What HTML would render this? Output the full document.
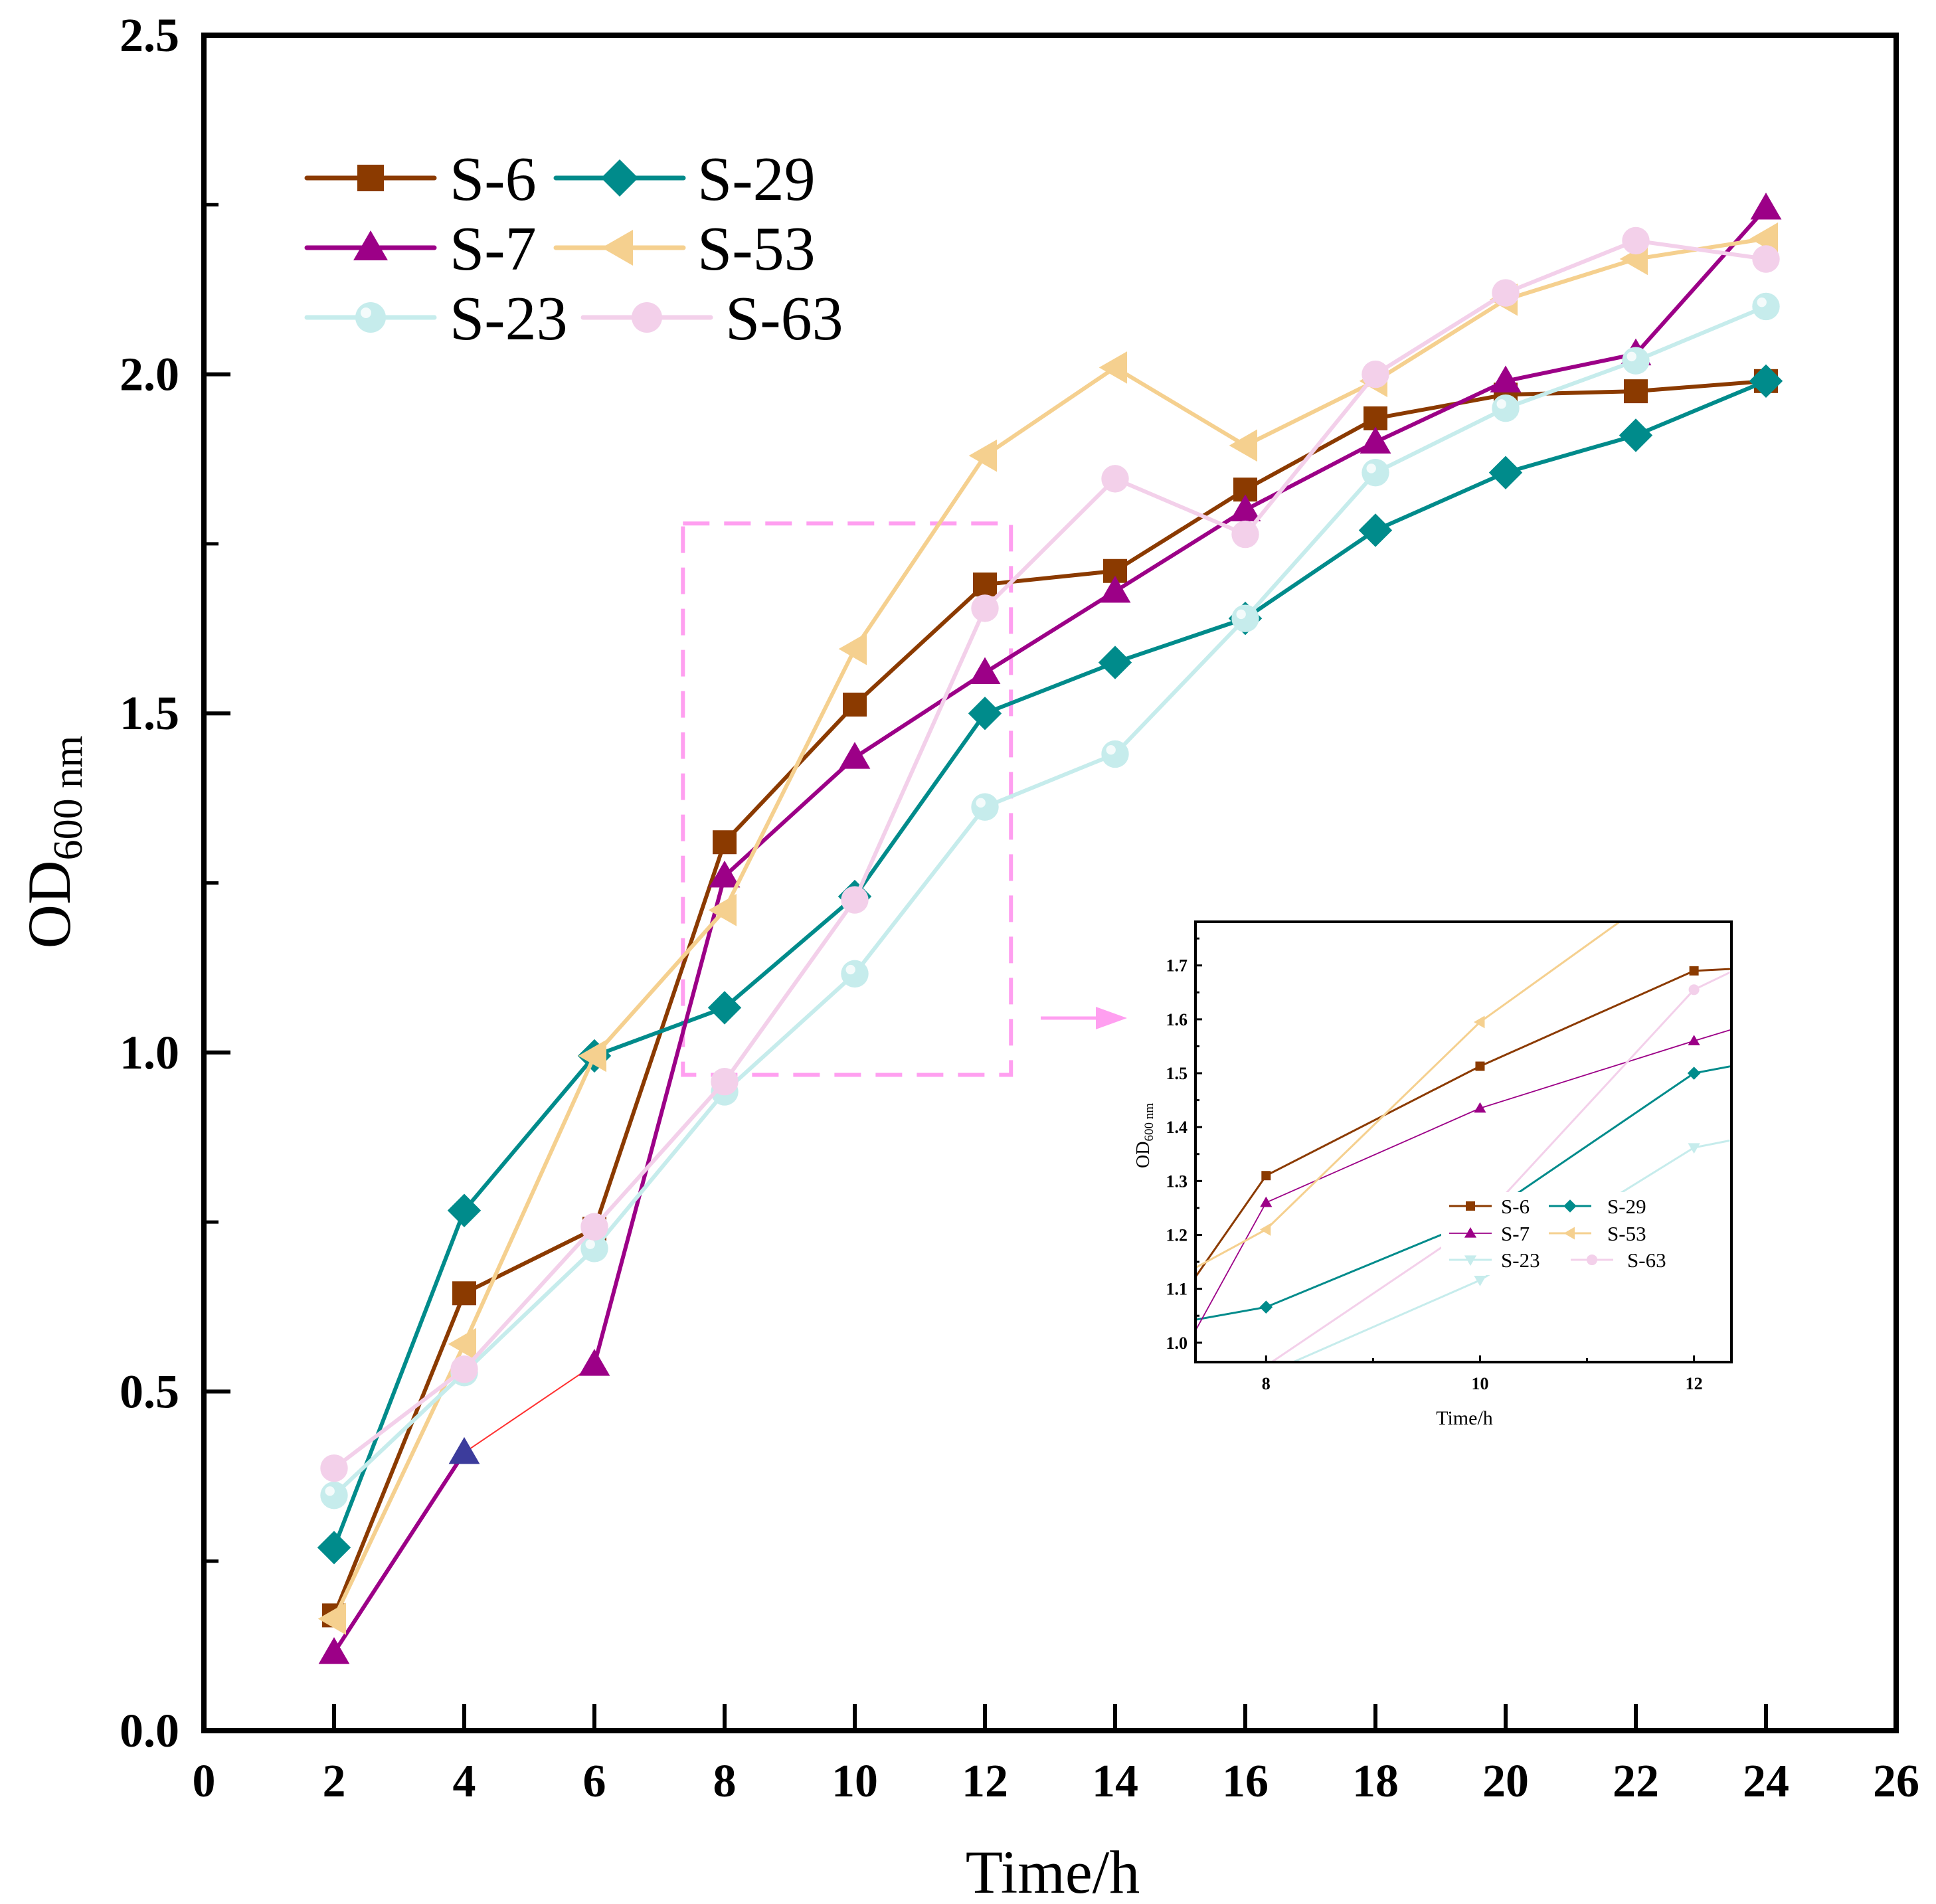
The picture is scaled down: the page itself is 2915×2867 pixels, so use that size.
<!DOCTYPE html>
<html><head><meta charset="utf-8"><style>
html,body{margin:0;padding:0;background:#fff}
svg{display:block}
text{font-family:"Liberation Serif","Times New Roman",serif}
</style></head><body>
<svg id="chart" width="2915" height="2867" viewBox="0 0 2915 2867" xmlns="http://www.w3.org/2000/svg">
<rect width="2915" height="2867" fill="#fff"/>
<g id="main"></g>
<g id="inset"></g>
</svg>
<script>
const times = [2,4,6,8,10,12,14,16,18,20,22,24];
const s6  = [0.17,0.645,0.74,1.31,1.513,1.69,1.71,1.83,1.935,1.97,1.975,1.99];
const s29 = [0.27,0.767,0.995,1.066,1.23,1.50,1.575,1.64,1.77,1.855,1.91,1.99];
const s7  = [0.115,0.41,0.54,1.26,1.435,1.56,1.68,1.80,1.90,1.99,2.03,2.245];
const s53 = [0.165,0.57,0.995,1.21,1.595,1.88,2.01,1.895,1.99,2.11,2.17,2.20];
const s23 = [0.347,0.528,0.711,0.942,1.116,1.362,1.44,1.64,1.855,1.95,2.02,2.10];
const s63 = [0.387,0.533,0.743,0.957,1.225,1.655,1.846,1.764,2.0,2.12,2.197,2.17];
const xTicks = [0,2,4,6,8,10,12,14,16,18,20,22,24,26];
const yTicks = [0.0,0.5,1.0,1.5,2.0,2.5];
const insetXTicks = [8,10,12];
const insetYTicks = [1.0,1.1,1.2,1.3,1.4,1.5,1.6,1.7];

const NS="http://www.w3.org/2000/svg";
function mk(tag,attrs,parent){const e=document.createElementNS(NS,tag);for(const k in attrs)e.setAttribute(k,attrs[k]);parent.appendChild(e);return e;}

const series=[
 {name:"S-6",vals:s6,color:"#8b3a00",marker:"square"},
 {name:"S-29",vals:s29,color:"#008b8b",marker:"diamond"},
 {name:"S-7",vals:s7,color:"#9c0087",marker:"triangle"},
 {name:"S-53",vals:s53,color:"#f5d08f",marker:"left"},
 {name:"S-23",vals:s23,color:"#c6ecec",marker:"ball"},
 {name:"S-63",vals:s63,color:"#f3d0ea",marker:"circle"}
];

function drawMarker(g,type,cx,cy,r,color){
  let e;
  if(type==="square") e=mk("rect",{x:cx-r,y:cy-r,width:2*r,height:2*r,fill:color},g);
  else if(type==="diamond") e=mk("polygon",{points:`${cx},${cy-r*1.4} ${cx+r*1.4},${cy} ${cx},${cy+r*1.4} ${cx-r*1.4},${cy}`,fill:color},g);
  else if(type==="triangle") e=mk("polygon",{points:`${cx},${cy-r*1.3} ${cx+r*1.3},${cy+r*0.95} ${cx-r*1.3},${cy+r*0.95}`,fill:color},g);
  else if(type==="down") e=mk("polygon",{points:`${cx},${cy+r*1.3} ${cx+r*1.3},${cy-r*0.95} ${cx-r*1.3},${cy-r*0.95}`,fill:color},g);
  else if(type==="left") e=mk("polygon",{points:`${cx-r*1.35},${cy} ${cx+r},${cy-r*1.35} ${cx+r},${cy+r*1.35}`,fill:color},g);
  else if(type==="ball"){ e=mk("circle",{cx:cx,cy:cy,r:r*1.15,fill:color},g); mk("circle",{cx:cx-r*0.35,cy:cy-r*0.35,r:r*0.4,fill:"#f4fbfb"},g);}
  else e=mk("circle",{cx:cx,cy:cy,r:r*1.15,fill:color},g);
  return e;
}

/* ---------- main chart ---------- */
const main=document.getElementById("main");
const X0=307,X1=2855,Y0=2606,Y1=53;
const xs=v=>X0+(v-0)/(26-0)*(X1-X0);
const ys=v=>Y0-(v-0)/(2.5-0)*(Y0-Y1);

yTicks.forEach(v=>{
  const t=mk("line",{x1:X0,x2:X0+40,y1:ys(v),y2:ys(v),stroke:"#000","stroke-width":6},main);
  
  
  const lb=mk("text",{x:270,y:ys(v)+24,"text-anchor":"end","font-size":72,"font-weight":"bold"},main);
  lb.textContent=v.toFixed(1);
  
  
  if(v<2.5){const m=mk("line",{x1:X0,x2:X0+22,y1:ys(v+0.25),y2:ys(v+0.25),stroke:"#000","stroke-width":5},main);
  
  }
});
xTicks.forEach(v=>{
  const t=mk("line",{x1:xs(v),x2:xs(v),y1:Y0,y2:Y0-40,stroke:"#000","stroke-width":6},main);
  
  
  const lb=mk("text",{x:xs(v),y:2705,"text-anchor":"middle","font-size":70,"font-weight":"bold"},main);
  lb.textContent=String(v);
  
  
});

const zr=mk("rect",{x:xs(7.36),y:ys(1.78),width:xs(12.4)-xs(7.36),height:ys(0.967)-ys(1.78),fill:"none",stroke:"#ff9ff0","stroke-width":6,"stroke-dasharray":"40,22"},main);


const ar=mk("g",{},main);


mk("line",{x1:1567,y1:1533,x2:1655,y2:1533,stroke:"#ff9ff0","stroke-width":5},ar);
mk("polygon",{points:"1697,1533 1650,1516 1650,1550",fill:"#ff9ff0"},ar);

series.forEach(s=>{
  const g=mk("g",{},main);
  
  
  const pts=times.map((t,i)=>[xs(t),ys(s.vals[i])]);
  if(s.name==="S-7"){
    const p1=mk("polyline",{points:pts.slice(0,2).map(p=>p.join(",")).join(" "),fill:"none",stroke:s.color,"stroke-width":6,"stroke-linecap":"round"},g);
    
    
    const p2=mk("line",{x1:pts[1][0],y1:pts[1][1],x2:pts[2][0],y2:pts[2][1],stroke:"#ff3030","stroke-width":2},g);
    
    
    const p3=mk("polyline",{points:pts.slice(2).map(p=>p.join(",")).join(" "),fill:"none",stroke:s.color,"stroke-width":6,"stroke-linecap":"round"},g);
    
    
  } else {
    const pl=mk("polyline",{points:pts.map(p=>p.join(",")).join(" "),fill:"none",stroke:s.color,"stroke-width":6,"stroke-linecap":"round","stroke-linejoin":"round"},g);
    
    
  }
  s.g=g;s.pts=pts;
});
series.forEach(s=>{
  s.pts.forEach((p,i)=>{
    const c=(s.name==="S-7"&&i===1)?"#3c3c9c":s.color;
    const m=drawMarker(s.g,s.marker,p[0],p[1],18,c);
    
    
  });
});

const fr=mk("rect",{x:X0,y:Y1,width:X1-X0,height:Y0-Y1,fill:"none",stroke:"#000","stroke-width":8},main);



const xt=mk("text",{x:1585,y:2850,"text-anchor":"middle","font-size":92},main);
xt.textContent="Time/h";


const yt=mk("text",{transform:"translate(105,1268) rotate(-90)","text-anchor":"middle","font-size":92},main);
yt.innerHTML='OD<tspan font-size="62" dy="18">600 nm</tspan>';



const leg=mk("g",{},main);


const legPos=[[462,268,677],[837,268,1050],[462,373,677],[837,373,1050],[462,478,677],[878,478,1092]];
series.forEach((s,i)=>{
  const [lx,ly,tx]=legPos[i];
  const e=mk("g",{},leg);
  
  
  mk("line",{x1:lx,x2:lx+192,y1:ly,y2:ly,stroke:s.color,"stroke-width":7,"stroke-linecap":"round"},e);
  drawMarker(e,s.marker,lx+96,ly,20,s.color);
  const t=mk("text",{x:tx,y:ly+33,"font-size":94},e);
  t.textContent=s.name;
});

/* ---------- inset ---------- */
const ins=document.getElementById("inset");
const IX0=1800,IX1=2607,IY0=2051,IY1=1388;
const xmin=7.34,xmax=12.35,ymin=0.964,ymax=1.781;
const ixs=v=>IX0+(v-xmin)/(xmax-xmin)*(IX1-IX0);
const iys=v=>IY0-(v-ymin)/(ymax-ymin)*(IY0-IY1);
const cp=mk("clipPath",{id:"ic"},ins);
mk("rect",{x:IX0,y:IY1,width:IX1-IX0,height:IY0-IY1},cp);
const ibg=mk("rect",{x:IX0,y:IY1,width:IX1-IX0,height:IY0-IY1,fill:"#fff"},ins);


const ig=mk("g",{"clip-path":"url(#ic)"},ins);


const insetMarkers={ "S-23":"down" };
series.forEach(s=>{
  const pts=times.map((t,i)=>[ixs(t),iys(s.vals[i])]);
  const pl=mk("polyline",{points:pts.map(p=>p.join(",")).join(" "),fill:"none",stroke:s.color,"stroke-width":s.name==="S-7"?1.8:3},ig);
  
  
  pts.forEach(p=>{
    const m=drawMarker(ig,insetMarkers[s.name]||s.marker,p[0],p[1],7,s.color);
    
    
  });
});
const il=mk("g",{},ins);


mk("rect",{x:2170,y:1795,width:340,height:125,fill:"#fff"},il);
const ilPos=[[2182,1816,2260],[2332,1816,2420],[2182,1857,2260],[2332,1857,2420],[2182,1897,2260],[2365,1897,2450]];
series.forEach((s,i)=>{
  const [lx,ly,tx]=ilPos[i];
  const e=mk("g",{},il);
  
  
  mk("line",{x1:lx,x2:lx+64,y1:ly,y2:ly,stroke:s.color,"stroke-width":s.name==="S-7"?1.8:3},e);
  drawMarker(e,insetMarkers[s.name]||s.marker,lx+32,ly,7,s.color);
  const t=mk("text",{x:tx,y:ly+11,"font-size":31},e);
  t.textContent=s.name;
});
insetYTicks.forEach(v=>{
  const t=mk("line",{x1:IX0,x2:IX0+10,y1:iys(v),y2:iys(v),stroke:"#000","stroke-width":3},ins);
  
  
  const m=mk("line",{x1:IX0,x2:IX0+6,y1:iys(v+0.05),y2:iys(v+0.05),stroke:"#000","stroke-width":3},ins);
  
  
  const lb=mk("text",{x:1788,y:iys(v)+9,"text-anchor":"end","font-size":26,"font-weight":"bold"},ins);
  lb.textContent=v.toFixed(1);
  
  
});
insetXTicks.forEach(v=>{
  const t=mk("line",{x1:ixs(v),x2:ixs(v),y1:IY0,y2:IY0-10,stroke:"#000","stroke-width":3},ins);
  
  
  if(v<12){const m=mk("line",{x1:ixs(v+1),x2:ixs(v+1),y1:IY0,y2:IY0-6,stroke:"#000","stroke-width":3},ins);
  
  }
  const lb=mk("text",{x:ixs(v),y:2092,"text-anchor":"middle","font-size":26,"font-weight":"bold"},ins);
  lb.textContent=String(v);
  
  
});
const ifr=mk("rect",{x:IX0,y:IY1,width:IX1-IX0,height:IY0-IY1,fill:"none",stroke:"#000","stroke-width":4},ins);


const ixt=mk("text",{x:2205,y:2145,"text-anchor":"middle","font-size":30},ins);
ixt.textContent="Time/h";


const iyt=mk("text",{transform:"translate(1730,1710) rotate(-90)","text-anchor":"middle","font-size":28},ins);
iyt.innerHTML='OD<tspan font-size="19" dy="6">600 nm</tspan>';


</script>
</body></html>
